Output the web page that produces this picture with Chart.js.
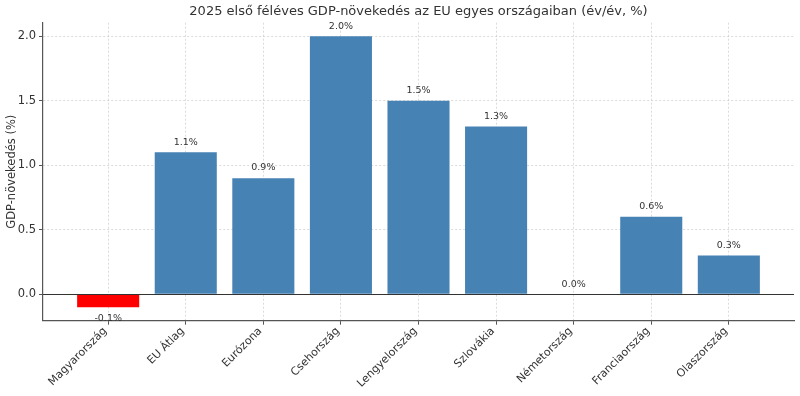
<!DOCTYPE html>
<html>
<head>
<meta charset="utf-8">
<script src="https://cdn.jsdelivr.net/npm/chart.js@4.4.1/dist/chart.umd.min.js"></script>
<style>
  html, body { margin: 0; padding: 0; background: #fff; }
  #wrap { width: 800px; height: 396px; }
</style>
</head>
<body>
<div id="wrap"><canvas id="c" width="800" height="396"></canvas></div>
<script>
const categories = ['Magyarország', 'EU Átlag', 'Eurózona', 'Csehország', 'Lengyelország', 'Szlovákia', 'Németország', 'Franciaország', 'Olaszország'];
const growth = [-0.1, 1.1, 0.9, 2.0, 1.5, 1.3, 0.0, 0.6, 0.3];
const barColors = ['#ff0000', '#4682b4', '#4682b4', '#4682b4', '#4682b4', '#4682b4', '#4682b4', '#4682b4', '#4682b4'];
const yTicks = [0.0, 0.5, 1.0, 1.5, 2.0];
const titleText = '2025 első féléves GDP-növekedés az EU egyes országaiban (év/év, %)';
const yTitle = 'GDP-növekedés (%)';

const FONT = 'DejaVu Sans';
const gridColor = 'rgba(190,190,190,0.55)';
const spineColor = '#555';

const valueLabels = {
  id: 'valueLabels',
  afterDatasetsDraw(chart) {
    const ctx = chart.ctx;
    const meta = chart.getDatasetMeta(0);
    const ys = chart.scales.y;
    const off = ys.getPixelForValue(0) - ys.getPixelForValue(0.05);
    ctx.save();
    ctx.font = '9.5px "' + FONT + '"';
    ctx.fillStyle = '#333';
    ctx.textAlign = 'center';
    meta.data.forEach((bar, i) => {
      const v = growth[i];
      const txt = v.toFixed(1) + '%';
      if (v < 0) {
        ctx.textBaseline = 'top';
        ctx.fillText(txt, bar.x, bar.y + off);
      } else {
        ctx.textBaseline = 'bottom';
        ctx.fillText(txt, bar.x, bar.y - off + 1);
      }
    });
    ctx.restore();
  }
};

const zeroLine = {
  id: 'zeroLine',
  afterDatasetsDraw(chart) {
    const ctx = chart.ctx;
    const y = Math.round(chart.scales.y.getPixelForValue(0)) + 0.5;
    const a = chart.chartArea;
    ctx.save();
    ctx.strokeStyle = '#333';
    ctx.lineWidth = 1;
    ctx.beginPath();
    ctx.moveTo(a.left, y);
    ctx.lineTo(a.right, y);
    ctx.stroke();
    ctx.restore();
  }
};

const plotTitle = {
  id: 'plotTitle',
  afterDraw(chart) {
    const ctx = chart.ctx;
    const a = chart.chartArea;
    ctx.save();
    ctx.font = '13px "' + FONT + '"';
    ctx.fillStyle = '#333';
    ctx.textAlign = 'center';
    ctx.textBaseline = 'middle';
    ctx.fillText(titleText, (a.left + a.right) / 2, 12);
    ctx.restore();
  }
};

new Chart(document.getElementById('c'), {
  type: 'bar',
  data: {
    datasets: [{
      data: growth.map((v, i) => ({ x: i, y: v })),
      backgroundColor: barColors,
      borderWidth: 0,
      barPercentage: 0.8,
      categoryPercentage: 1.0
    }]
  },
  options: {
    responsive: false,
    animation: false,
    devicePixelRatio: 1,
    layout: { padding: { left: 0, right: 6, top: 22.7, bottom: 0 } },
    plugins: {
      legend: { display: false },
      tooltip: { enabled: false },
      title: { display: false }
    },
    scales: {
      x: {
        type: 'linear',
        min: -0.84,
        max: 8.84,
        offset: false,
        z: 1,
        afterBuildTicks(scale) { scale.ticks = categories.map((_, i) => ({ value: i })); },
        afterFit(scale) { scale.height = 75.3; },
        ticks: {
          autoSkip: false,
          minRotation: 45,
          maxRotation: 45,
          padding: 0,
          labelOffset: -3,
          color: '#333',
          font: { family: FONT, size: 11 },
          callback: (v) => categories[v]
        },
        grid: {
          offset: false,
          color: gridColor,
          drawTicks: true,
          tickLength: 4,
          tickColor: spineColor,
          tickBorderDash: []
        },
        border: { display: true, color: spineColor, width: 1.2, dash: [2, 2] }
      },
      y: {
        min: -0.205,
        max: 2.105,
        z: 1,
        afterBuildTicks(scale) { scale.ticks = yTicks.map(v => ({ value: v })); },
        afterFit(scale) { scale.width = 43; },
        ticks: {
          padding: 3,
          color: '#333',
          font: { family: FONT, size: 11.5 },
          callback: (v) => Number(v).toFixed(1)
        },
        grid: {
          color: gridColor,
          drawTicks: true,
          tickLength: 4,
          tickColor: spineColor,
          tickBorderDash: []
        },
        border: { display: true, color: spineColor, width: 1.2, dash: [2, 2] },
        title: {
          display: true,
          text: yTitle,
          color: '#333',
          font: { family: FONT, size: 11.5 },
          padding: { top: 5, bottom: 0 }
        }
      }
    }
  },
  plugins: [zeroLine, valueLabels, plotTitle]
});
</script>
</body>
</html>
